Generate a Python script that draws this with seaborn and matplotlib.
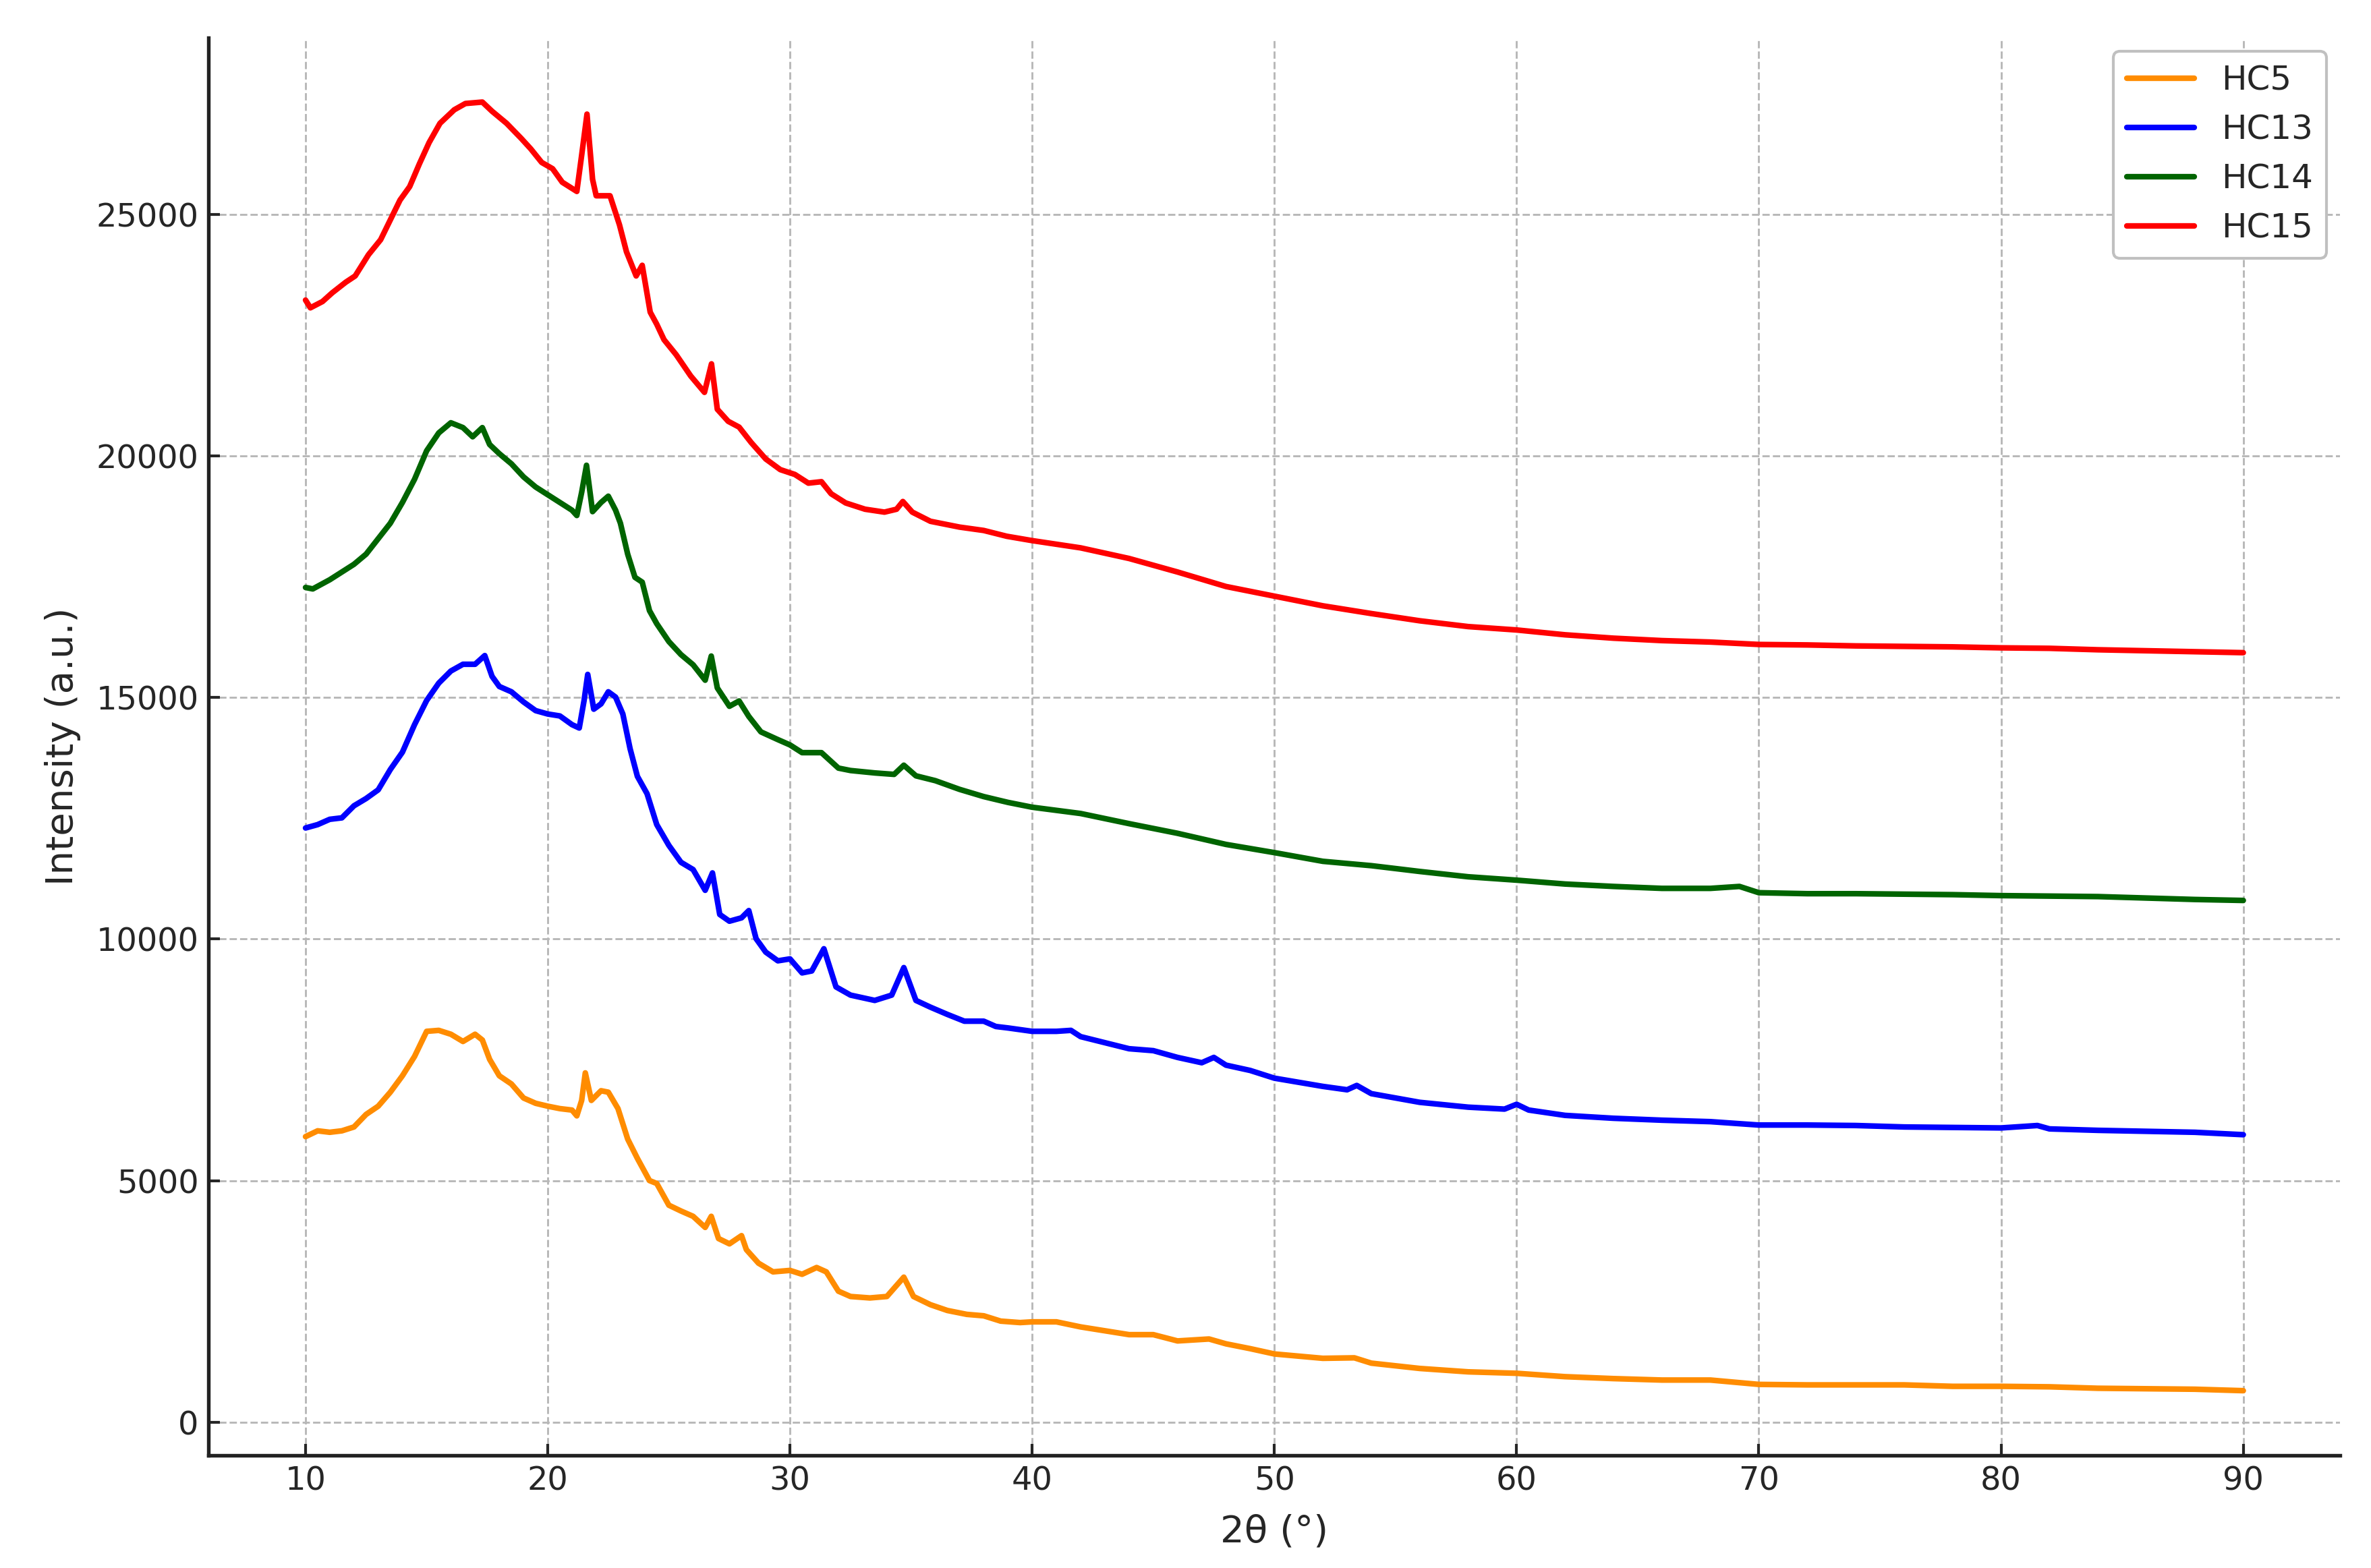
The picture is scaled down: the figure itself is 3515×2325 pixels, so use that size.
import numpy as np
import pandas as pd
import matplotlib
matplotlib.use("Agg")
import matplotlib.pyplot as plt
import seaborn as sns

# ---- data ----
x_hc5 = [10,10.5,11,11.5,12,12.5,13,13.5,14,14.5,15,15.5,16,16.5,17,17.3,17.6,18,18.5,19,
         19.5,20,20.5,21,21.2,21.4,21.55,21.8,22.2,22.5,22.9,23.3,23.7,24.2,24.5,25,25.5,26,26.5,26.75,
         27.05,27.5,28.0,28.2,28.7,29.3,30,30.5,31.1,31.5,32,32.5,33.3,34,34.7,35.1,35.8,36.5,37.3,38,
         38.7,39.5,40,41,42,44,45,46,47.3,48,49,50,52,53.3,54,56,58,60,62,64,
         66,68,70,72,74,76,78,80,82,84,86,88,90]
y_hc5 = [5910,6030,6000,6030,6110,6370,6540,6830,7170,7570,8090,8110,8030,7880,8030,7910,7510,7170,7000,6710,
         6600,6540,6490,6460,6340,6660,7230,6660,6860,6830,6490,5860,5460,5000,4940,4490,4370,4260,4030,4260,
         3800,3690,3860,3570,3290,3110,3140,3060,3200,3110,2710,2600,2570,2600,3000,2600,2430,2310,2230,2200,
         2090,2060,2075,2075,1970,1810,1810,1680,1720,1620,1520,1410,1320,1330,1220,1110,1040,1010,940,900,
         870,870,780,770,770,770,740,740,730,700,690,680,650]

x_hc13 = [10,10.5,11,11.5,12,12.5,13,13.5,14,14.5,15,15.5,16,16.5,17,17.4,17.7,18,18.5,19,
          19.5,20,20.5,21,21.3,21.5,21.65,21.9,22.2,22.5,22.8,23.1,23.4,23.7,24.1,24.5,25,25.5,26,26.5,
          26.8,27.1,27.5,28,28.3,28.6,29,29.5,30,30.5,30.9,31.4,31.9,32.5,33.5,34.2,34.7,35.2,35.8,36.5,
          37.2,38,38.5,39,40,41,41.6,42,44,45,46,47,47.5,48,49,50,52,53,53.4,54,
          56,58,59.5,60,60.5,62,64,66,68,70,72,74,76,78,80,81.5,82,84,86,88,90]
y_hc13 = [12300,12370,12480,12510,12760,12910,13090,13510,13870,14440,14940,15300,15550,15690,15690,15870,15440,15230,15120,14910,
          14730,14660,14620,14440,14370,14940,15480,14760,14870,15120,15010,14660,13940,13370,13010,12370,11940,11590,11440,11010,
          11370,10510,10370,10440,10590,10010,9730,9550,9590,9300,9340,9800,9010,8840,8730,8840,9410,8730,8590,8440,
          8300,8300,8190,8160,8090,8090,8110,7980,7730,7690,7550,7440,7550,7390,7280,7120,6950,6880,6970,6800,
          6620,6520,6480,6580,6460,6350,6290,6250,6220,6150,6150,6140,6110,6100,6090,6140,6070,6040,6020,6000,5950]

x_hc14 = [10,10.3,11,11.5,12,12.5,13,13.5,14,14.5,15,15.5,16,16.5,16.9,17.3,17.6,18,18.5,19,
          19.5,20,20.5,21,21.2,21.4,21.6,21.85,22.2,22.5,22.8,23,23.3,23.6,23.9,24.2,24.5,25,25.5,26,
          26.5,26.75,27,27.5,27.9,28.3,28.8,29.5,30,30.5,31.3,32,32.5,33.5,34.3,34.7,35.2,36,37,38,
          39,40,42,44,46,48,50,52,54,56,58,60,62,64,66,68,69.2,70,72,74,
          76,78,80,82,84,86,88,90]
y_hc14 = [17280,17250,17440,17600,17760,17970,18290,18610,19040,19520,20110,20480,20690,20590,20400,20590,20240,20050,19840,19570,
          19360,19200,19040,18880,18770,19250,19810,18850,19040,19170,18880,18610,17970,17490,17390,16800,16530,16160,15890,15680,
          15360,15860,15200,14820,14930,14610,14290,14130,14020,13860,13860,13540,13490,13440,13410,13600,13380,13280,13100,12950,
          12830,12730,12600,12390,12190,11960,11790,11610,11520,11400,11290,11220,11140,11090,11050,11050,11090,10960,10940,10940,
          10930,10920,10900,10890,10880,10850,10820,10800]

x_hc15 = [10,10.2,10.7,11.1,11.66,12.05,12.6,13.1,13.5,13.9,14.3,14.7,15.1,15.55,16.14,16.6,17.3,17.7,18.3,18.9,
          19.3,19.75,20.2,20.6,21.2,21.4,21.62,21.85,22,22.57,22.96,23.25,23.65,23.9,24.23,24.5,24.8,25.3,25.9,26.47,
          26.76,27,27.45,27.9,28.4,29,29.6,30.2,30.76,31.3,31.7,32.3,33.1,33.9,34.4,34.66,35.05,35.8,37,38,
          38.95,40,42,44,46,48,50,52,54,56,58,60,62,64,66,68,70,72,74,76,
          78,80,82,84,86,88,90]
y_hc15 = [23230,23070,23200,23380,23600,23730,24170,24480,24890,25300,25580,26050,26490,26890,27170,27300,27330,27140,26890,26580,
          26360,26080,25950,25670,25480,26230,27080,25730,25390,25390,24790,24230,23730,23950,22980,22730,22410,22100,21660,21320,
          21910,20970,20720,20600,20280,19940,19720,19620,19440,19470,19220,19030,18900,18840,18900,19060,18840,18650,18530,18460,
          18340,18250,18100,17880,17600,17300,17100,16900,16740,16590,16470,16400,16300,16230,16180,16150,16100,16090,16070,16060,
          16050,16030,16020,15990,15970,15950,15930]

series_names = ["HC5", "HC13", "HC14", "HC15"]
series_colors = ["#ff8c00", "#0000ff", "#006400", "#ff0000"]
x_label = "2θ (°)"
y_label = "Intensity (a.u.)"

frames = []
for name, xs, ys in zip(series_names,
                        [x_hc5, x_hc13, x_hc14, x_hc15],
                        [y_hc5, y_hc13, y_hc14, y_hc15]):
    frames.append(pd.DataFrame({"two_theta": xs, "intensity": ys, "sample": name}))
df = pd.concat(frames, ignore_index=True)

sns.set_style("ticks")
plt.rcParams["font.family"] = ["DejaVu Sans"]

fig = plt.figure(figsize=(3515 / 300, 2325 / 300), dpi=300)
ax = fig.add_axes([0.088, 0.072, 0.899, 0.904])

sns.lineplot(data=df, x="two_theta", y="intensity", hue="sample",
             hue_order=series_names, palette=dict(zip(series_names, series_colors)),
             estimator=None, linewidth=2.0, ax=ax)

ax.grid(True, linestyle="--", color="#b8b8b8", linewidth=0.7)
ax.set_axisbelow(True)
for s in ["top", "right"]:
    ax.spines[s].set_visible(False)
for s in ["left", "bottom"]:
    ax.spines[s].set_linewidth(1.3)
    ax.spines[s].set_color("#222222")
ax.tick_params(direction="in", length=4, width=1.0, labelsize=11.5, pad=3.5)
ax.set_xlabel(x_label, fontsize=13.5, labelpad=6)
ax.set_ylabel(y_label, fontsize=13.5, labelpad=5.5)
ax.margins(x=0.05, y=0.05)

leg = ax.legend(loc="upper right", fontsize=12, frameon=True, fancybox=True,
                edgecolor="#c0c0c0", framealpha=1.0, handlelength=2.0,
                borderaxespad=0.4)
leg.get_frame().set_linewidth(1.0)
for line in leg.get_lines():
    line.set_linewidth(2.0)

fig.savefig("out.png", dpi=300)
